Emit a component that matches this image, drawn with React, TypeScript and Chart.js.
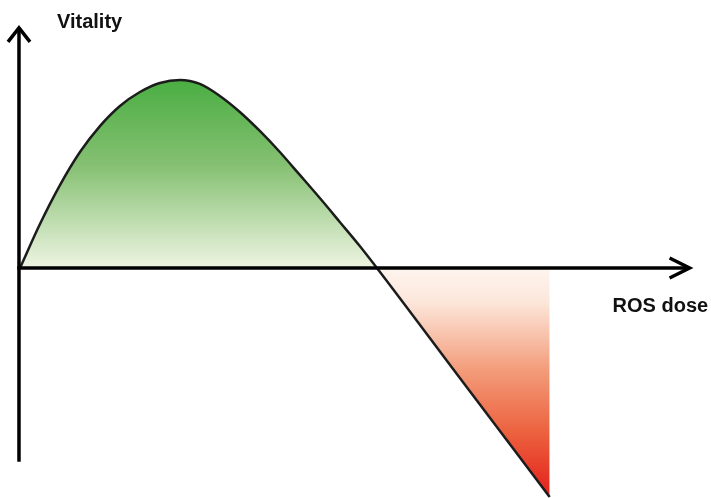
import React, { useEffect, useRef } from "react";
import { Chart, registerables } from "chart.js";

Chart.register(...registerables);

// Hormetic (beneficial) branch: ROS dose vs vitality
const benefitDose = [0, 0.28, 0.56, 0.84, 1.12, 1.4, 1.68, 1.96, 2.24, 2.52, 2.8, 3.08, 3.36, 3.64, 3.92, 4.2, 4.48, 4.76, 5.0];
const benefitVitality = [0, 0.234, 0.441, 0.617, 0.755, 0.862, 0.936, 0.984, 1.0, 0.979, 0.915, 0.83, 0.729, 0.617, 0.495, 0.372, 0.245, 0.117, 0];

// Toxic branch
const toxicDose = [5.0, 6.13, 7.42];
const toxicVitality = [0, -0.569, -1.218];

// Axis extents (data units)
const X_RANGE = [-0.28, 9.68];
const Y_RANGE = [-1.2234, 1.4255];
const X_AXIS_END = 9.38;
const Y_AXIS_TOP = 1.277;
const Y_AXIS_BOTTOM = -1.03;

const X_LABEL = "ROS dose";
const Y_LABEL = "Vitality";

const toPoints = (xs: number[], ys: number[]) => xs.map((x, i) => ({ x, y: ys[i] }));

export default function App() {
  const ref = useRef<HTMLCanvasElement | null>(null);

  useEffect(() => {
    if (!ref.current) return;

    const axesPlugin = {
      id: "arrowAxes",
      afterDatasetsDraw(chart: any) {
        const { ctx, scales } = chart;
        const sx = scales.x;
        const sy = scales.y;
        const x0 = sx.getPixelForValue(0) - 1;
        const y0 = sy.getPixelForValue(0);
        const xEnd = sx.getPixelForValue(X_AXIS_END);
        const yTop = sy.getPixelForValue(Y_AXIS_TOP);
        const yBot = sy.getPixelForValue(Y_AXIS_BOTTOM);
        ctx.save();
        ctx.strokeStyle = "#000";
        ctx.lineWidth = 3.5;
        ctx.lineCap = "butt";
        ctx.beginPath();
        ctx.moveTo(x0, yBot);
        ctx.lineTo(x0, yTop + 1);
        ctx.stroke();
        ctx.beginPath();
        ctx.moveTo(x0 - 1.75, y0);
        ctx.lineTo(xEnd - 1, y0);
        ctx.stroke();
        ctx.lineJoin = "miter";
        ctx.beginPath();
        ctx.moveTo(x0 - 11, yTop + 14);
        ctx.lineTo(x0, yTop);
        ctx.lineTo(x0 + 11, yTop + 14);
        ctx.stroke();
        ctx.beginPath();
        ctx.moveTo(xEnd - 20, y0 - 10);
        ctx.lineTo(xEnd, y0);
        ctx.lineTo(xEnd - 20, y0 + 10);
        ctx.stroke();
        ctx.fillStyle = "#111";
        ctx.font = "bold 20px 'Liberation Sans', Arial, sans-serif";
        ctx.textBaseline = "alphabetic";
        ctx.textAlign = "left";
        ctx.fillText(Y_LABEL, x0 + 38, yTop);
        ctx.fillText(X_LABEL, xEnd - 77, y0 + 44);
        ctx.restore();
      },
    };

    const greenFill = (c: any) => {
      const { ctx, chartArea, scales } = c.chart;
      if (!chartArea) return "rgba(0,0,0,0)";
      const top = scales.y.getPixelForValue(Math.max(...benefitVitality));
      const bottom = scales.y.getPixelForValue(0);
      const g = ctx.createLinearGradient(0, top, 0, bottom);
      g.addColorStop(0, "#4aae42");
      g.addColorStop(0.45, "#85c072");
      g.addColorStop(1, "#eef4e2");
      return g;
    };

    const redFill = (c: any) => {
      const { ctx, chartArea, scales } = c.chart;
      if (!chartArea) return "rgba(0,0,0,0)";
      const top = scales.y.getPixelForValue(0);
      const bottom = scales.y.getPixelForValue(Math.min(...toxicVitality));
      const g = ctx.createLinearGradient(0, top, 0, bottom);
      g.addColorStop(0, "#fef5f0");
      g.addColorStop(0.15, "#fce6da");
      g.addColorStop(0.45, "#f39b79");
      g.addColorStop(0.72, "#ec613e");
      g.addColorStop(1, "#e3201a");
      return g;
    };

    const curve = toPoints(benefitDose, benefitVitality).concat(toPoints(toxicDose.slice(1), toxicVitality.slice(1)));

    const chart = new Chart(ref.current, {
      type: "scatter",
      data: {
        datasets: [
          {
            label: "curve",
            data: curve,
            showLine: true,
            fill: false,
            borderColor: "#1c1c1c",
            borderWidth: 2.5,
            pointRadius: 0,
            cubicInterpolationMode: "monotone",
          },
          {
            label: "benefit",
            data: toPoints(benefitDose, benefitVitality),
            showLine: true,
            fill: "origin",
            backgroundColor: greenFill,
            borderWidth: 0,
            borderColor: "rgba(0,0,0,0)",
            pointRadius: 0,
            cubicInterpolationMode: "monotone",
          },
          {
            label: "toxic",
            data: toPoints(toxicDose, toxicVitality),
            showLine: true,
            fill: "origin",
            backgroundColor: redFill,
            borderWidth: 0,
            borderColor: "rgba(0,0,0,0)",
            pointRadius: 0,
            cubicInterpolationMode: "monotone",
          },
        ],
      },
      options: {
        animation: false,
        responsive: false,
        maintainAspectRatio: false,
        layout: { padding: 0 },
        plugins: {
          legend: { display: false },
          tooltip: { enabled: false },
          title: { display: false },
        },
        scales: {
          x: { type: "linear", display: false, min: X_RANGE[0], max: X_RANGE[1] },
          y: { type: "linear", display: false, min: Y_RANGE[0], max: Y_RANGE[1] },
        },
      },
      plugins: [axesPlugin],
    } as any);

    return () => chart.destroy();
  }, []);

  return (
    <div style={{ position: "fixed", left: 0, top: 0, width: 711, height: 498, background: "#fff" }}>
      <canvas ref={ref} width={711} height={498} style={{ display: "block" }} />
    </div>
  );
}
